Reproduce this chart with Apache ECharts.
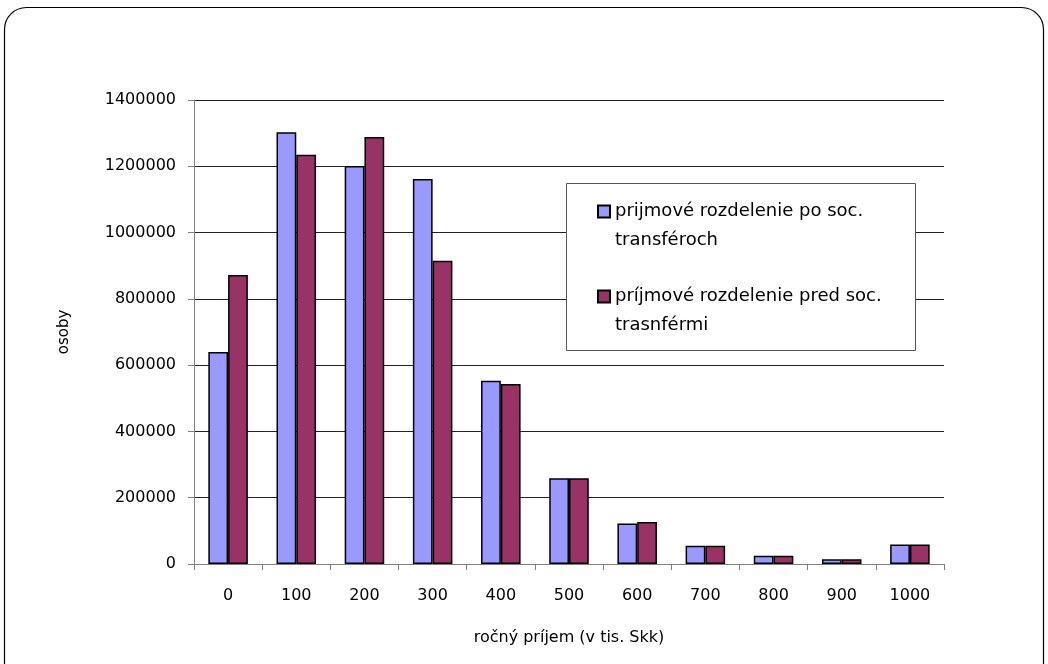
<!DOCTYPE html>
<html>
<head>
<meta charset="utf-8">
<script src="https://cdn.jsdelivr.net/npm/echarts@6/dist/echarts.min.js"></script>
<style>
  html, body { margin: 0; padding: 0; background: #fff; }
  #chart { width: 1048px; height: 664px; }
</style>
</head>
<body>
<div id="chart"></div>
<script>
// Income brackets (thousand Skk)
const categories = ['0', '100', '200', '300', '400', '500', '600', '700', '800', '900', '1000'];
// Persons by yearly income, after social transfers
const afterTransfers = [640000, 1303000, 1201000, 1162000, 553000, 259000, 122000, 55000, 25000, 14000, 59000];
// Persons by yearly income, before social transfers
const beforeTransfers = [872000, 1235000, 1288000, 915000, 543000, 259000, 127000, 55000, 25000, 14000, 59000];
const seriesNames = ['prijmové rozdelenie po soc. transféroch', 'príjmové rozdelenie pred soc. trasnférmi'];
// Legend labels wrapped onto two lines; the leading blank line keeps the
// swatch level with the first line of text
const legendText = {
  'prijmové rozdelenie po soc. transféroch': ' \nprijmové rozdelenie po soc.\ntransféroch',
  'príjmové rozdelenie pred soc. trasnférmi': ' \npríjmové rozdelenie pred soc.\ntrasnférmi'
};

const font = 'DejaVu Sans';
const chart = echarts.init(document.getElementById('chart'));

chart.setOption({
  animation: false,
  backgroundColor: '#fff',
  graphic: [
    {
      type: 'rect',
      shape: { x: 4.5, y: 7.5, width: 1039, height: 700, r: 22 },
      style: { fill: 'none', stroke: '#000', lineWidth: 1.2 },
      silent: true
    },
    {
      type: 'rect',
      shape: { x: 566.5, y: 183.5, width: 349, height: 167 },
      style: { fill: '#fff', stroke: '#555', lineWidth: 1 },
      z: 5,
      silent: true
    }
  ],
  grid: { left: 194, top: 100, right: 104, bottom: 100 },
  legend: {
    orient: 'vertical',
    left: 592,
    top: 163,
    padding: 5,
    z: 10,
    icon: 'rect',
    itemWidth: 12,
    itemHeight: 12,
    itemGap: -2,
    data: seriesNames,
    formatter: name => legendText[name],
    textStyle: {
      fontFamily: font,
      fontSize: 18,
      color: '#000',
      lineHeight: 29
    }
  },
  xAxis: {
    type: 'category',
    data: categories,
    name: 'ročný príjem (v tis. Skk)',
    nameLocation: 'middle',
    nameGap: 66,
    nameTextStyle: { fontFamily: font, fontSize: 16, color: '#000' },
    axisLine: { lineStyle: { color: '#808080', width: 1 } },
    axisTick: { show: true, length: 6, lineStyle: { color: '#808080' } },
    axisLabel: { fontFamily: font, fontSize: 16, color: '#000', margin: 24 },
    splitLine: { show: false }
  },
  yAxis: {
    type: 'value',
    min: 0,
    max: 1400000,
    interval: 200000,
    name: 'osoby',
    nameLocation: 'middle',
    nameGap: 122,
    nameTextStyle: { fontFamily: font, fontSize: 15, color: '#000' },
    axisLine: { show: true, lineStyle: { color: '#808080', width: 1 } },
    axisTick: { show: true, length: 6, lineStyle: { color: '#808080' } },
    axisLabel: {
      fontFamily: font,
      fontSize: 16,
      color: '#000',
      margin: 18,
      formatter: v => String(v)
    },
    splitLine: { show: true, lineStyle: { color: '#222', width: 1 } }
  },
  series: [
    {
      name: seriesNames[0],
      type: 'bar',
      data: afterTransfers,
      barGap: '0%',
      barCategoryGap: '42%',
      itemStyle: { color: '#9999FF', borderColor: '#000', borderWidth: 1.5 }
    },
    {
      name: seriesNames[1],
      type: 'bar',
      data: beforeTransfers,
      barGap: '0%',
      barCategoryGap: '42%',
      itemStyle: { color: '#993366', borderColor: '#000', borderWidth: 1.5 }
    }
  ]
});
</script>
</body>
</html>
